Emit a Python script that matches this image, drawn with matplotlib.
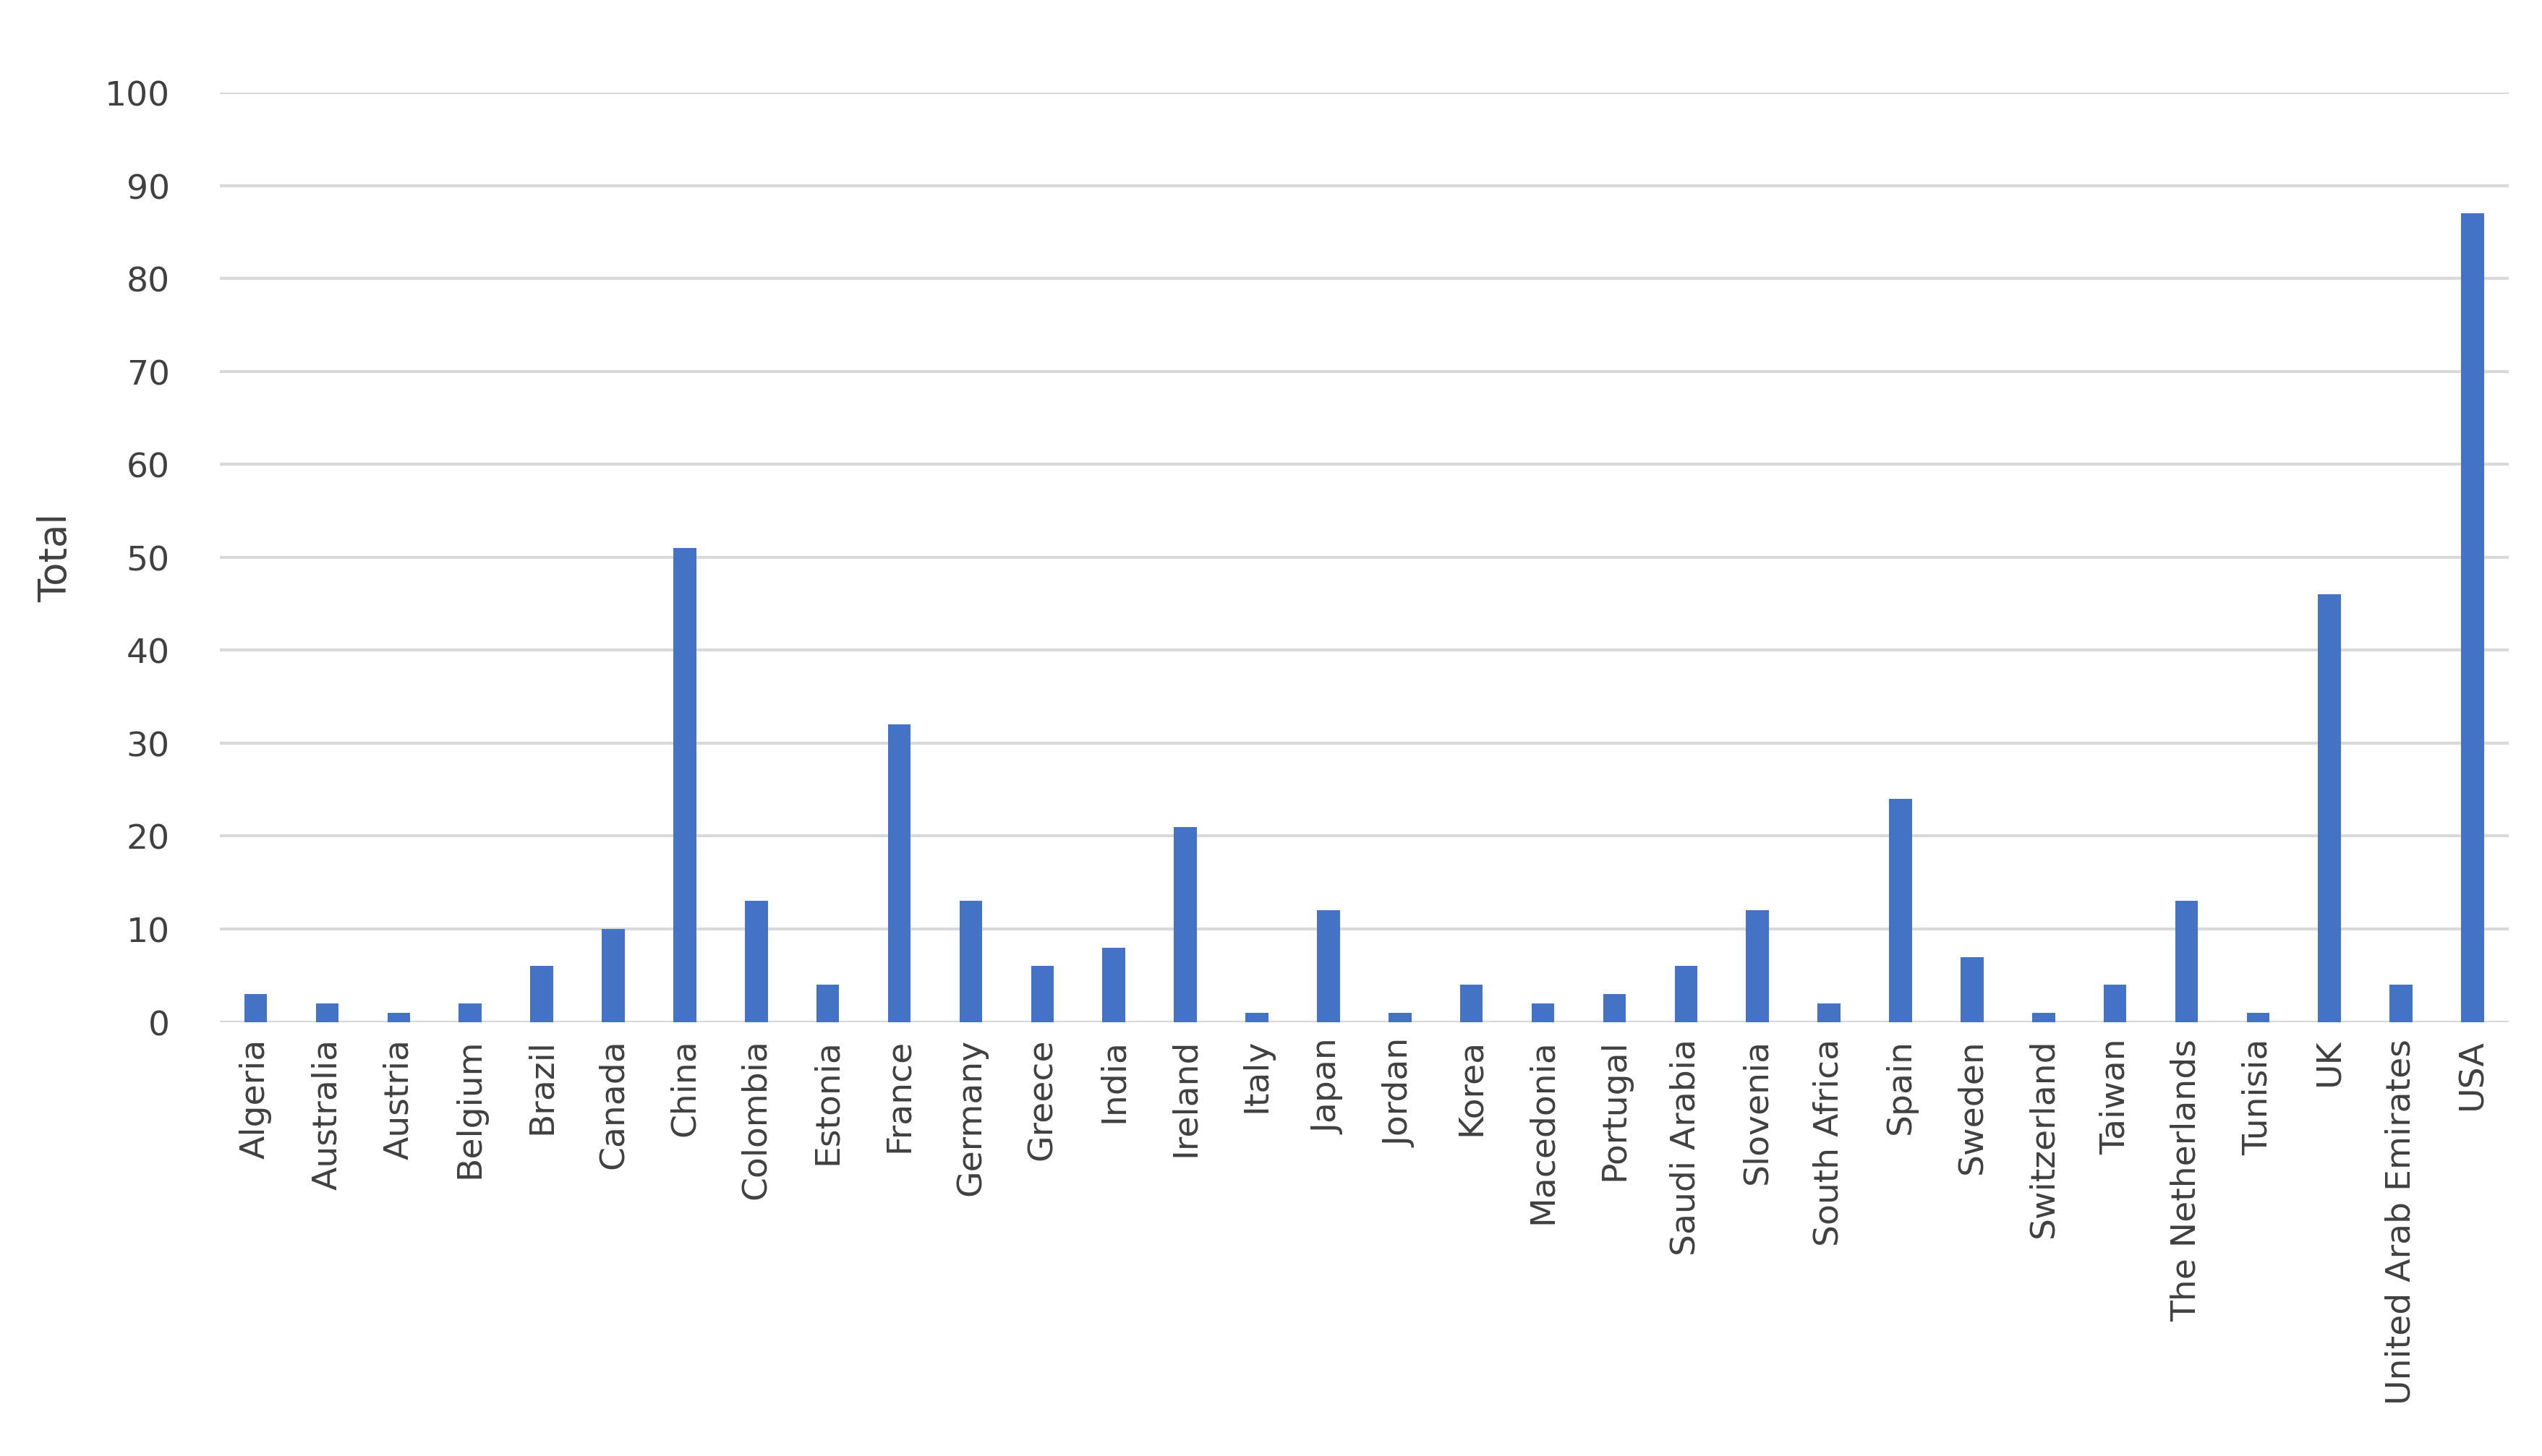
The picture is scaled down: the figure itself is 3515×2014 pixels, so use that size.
import matplotlib
matplotlib.use("Agg")
import matplotlib.pyplot as plt

countries = ["Algeria","Australia","Austria","Belgium","Brazil","Canada","China","Colombia","Estonia","France","Germany","Greece","India","Ireland","Italy","Japan","Jordan","Korea","Macedonia","Portugal","Saudi Arabia","Slovenia","South Africa","Spain","Sweden","Switzerland","Taiwan","The Netherlands","Tunisia","UK","United Arab Emirates","USA"]
totals = [3,2,1,2,6,10,51,13,4,32,13,6,8,21,1,12,1,4,2,3,6,12,2,24,7,1,4,13,1,46,4,87]

fig = plt.figure(figsize=(17.58, 10.075), dpi=200)
ax = fig.add_axes([0.0865, 0.298, 0.9, 0.638])
x = range(len(countries))
ax.bar(x, totals, width=0.32, color="#4472C4", zorder=3)
ax.set_xlim(-0.5, len(countries) - 0.5)
ax.set_ylim(0, 100)
ax.set_yticks(range(0, 101, 10))
ax.yaxis.grid(True, color="#D9D9D9", linewidth=1.5, zorder=0)
ax.set_xticks(list(x))
ax.set_xticklabels(countries, rotation=90, fontsize=17, color="#404040")
ax.tick_params(axis="y", labelsize=17, labelcolor="#404040", length=0, pad=25)
ax.tick_params(axis="x", length=0, pad=8)
for s in ax.spines.values():
    s.set_visible(False)
ax.axhline(0, color="#D9D9D9", linewidth=1.5, zorder=2)
ax.set_ylabel("Total", fontsize=19, color="#404040", labelpad=15)
fig.savefig("out.png", dpi=200)
